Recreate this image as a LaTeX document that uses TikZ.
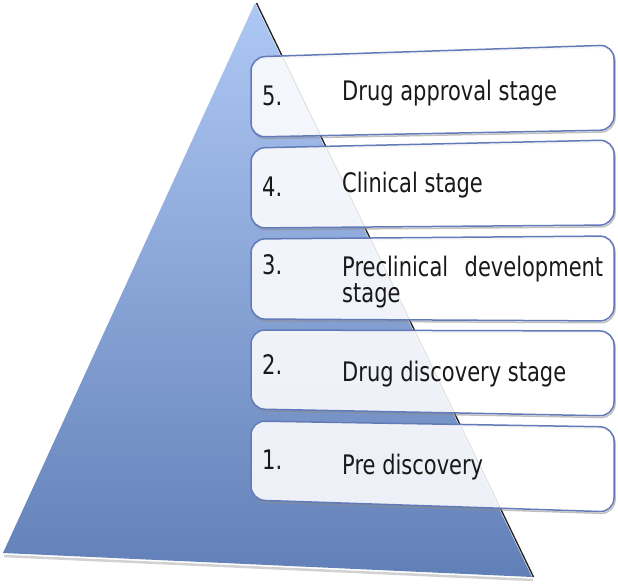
\documentclass[tikz,border=0pt]{standalone}
\usepackage{graphicx}
\usepackage{fontspec}
\setmainfont{DejaVu Sans}
\usepackage{tikz}
\usetikzlibrary{positioning}

\definecolor{pyrtop}{RGB}{174,200,244}
\definecolor{pyrbot}{RGB}{98,128,184}
\definecolor{boxline}{RGB}{98,122,184}
\newcommand{\tallbox}[1]{\scalebox{1}[1.28]{#1}}

\begin{document}
\begin{tikzpicture}[
    x=1pt, y=-1pt,
    stage/.style={rounded corners=14pt, draw=boxline, line width=1.5pt,
                  fill=white, fill opacity=0.88},
    stageshadow/.style={rounded corners=14pt, draw=black!45, line width=1.5pt,
                        opacity=0.55},
    num/.style={font=\fontsize{21}{20}\selectfont, text=black!90,
                anchor=base west, inner sep=0pt},
    lbl/.style={num}
  ]
  \useasboundingbox (0,0) rectangle (618,585);
  % pyramid
  \draw[black!30, line width=2.5pt, opacity=0.6] (4,556) -- (533,580);
  \draw[black!85, line width=1.4pt] (256.5,3) -- (533.5,577);
  \shade[top color=pyrtop, bottom color=pyrbot] (255,3) -- (532,577) -- (3,553) -- cycle;
  % stage boxes
  \foreach \i/\a/\b/\c/\d in {5/57/45/130/137, 4/148/140/225/228,
                              3/239/236/321/319, 2/330/331/416/409,
                              1/421/427/512/500} {
    \draw[stageshadow, shift={(1,1.8)}] (251,\a) -- (614,\b) -- (614,\c) -- (251,\d) -- cycle;
    \draw[stage] (251,\a) -- (614,\b) -- (614,\c) -- (251,\d) -- cycle;
  }
  % numbers
  \foreach \i/\y in {5/106, 4/197, 3/274, 2/374, 1/469} {
    \node[num] (num\i) at (262,\y) {\tallbox{\i.}};
  }
  % labels
  \foreach \i/\y/\txt in {5/101/Drug approval stage, 4/193/Clinical stage,
                          2/381/Drug discovery stage, 1/474/Pre discovery} {
    \node[lbl] (lbl\i) at (342,\y) {\tallbox{\txt}};
  }
  \node[lbl, anchor=north west] (lbl3) at (342,256)
    {\tallbox{\parbox[t]{261pt}{Preclinical\hfill development\\stage}}};
\end{tikzpicture}
\end{document}
